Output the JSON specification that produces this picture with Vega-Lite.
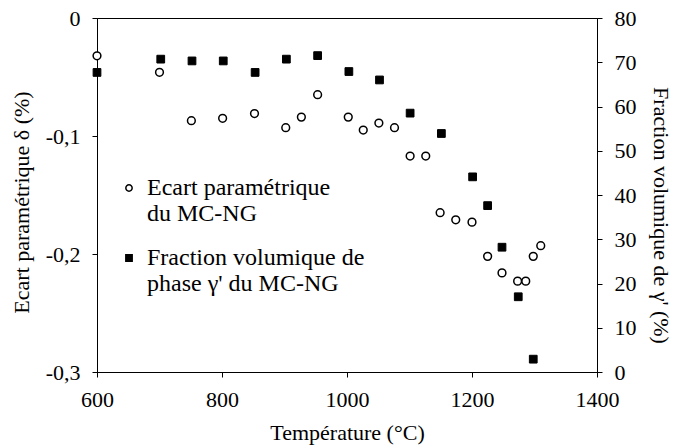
{
  "$schema": "https://vega.github.io/schema/vega-lite/v6.json",
  "width": 500,
  "height": 354,
  "autosize": {"type": "none"},
  "padding": {"left": 97, "top": 18, "right": 76, "bottom": 76},
  "background": "white",
  "config": {
    "view": {"stroke": "black", "strokeWidth": 1},
    "font": "Liberation Serif",
    "axis": {
      "labelFont": "Liberation Serif",
      "titleFont": "Liberation Serif",
      "labelFontSize": 22,
      "titleFontSize": 22,
      "titleFontWeight": "normal",
      "labelColor": "black",
      "titleColor": "black",
      "domainColor": "black",
      "tickColor": "black",
      "grid": false,
      "tickSize": 5,
      "labelFlush": false,
      "labelOverlap": false
    }
  },
  "datasets": {
    "ecart": [
      {"T": 600, "delta": -0.032, "series": "Ecart paramétrique|du MC-NG"},
      {"T": 700, "delta": -0.046, "series": "Ecart paramétrique|du MC-NG"},
      {"T": 751, "delta": -0.087, "series": "Ecart paramétrique|du MC-NG"},
      {"T": 801, "delta": -0.085, "series": "Ecart paramétrique|du MC-NG"},
      {"T": 852, "delta": -0.081, "series": "Ecart paramétrique|du MC-NG"},
      {"T": 902, "delta": -0.093, "series": "Ecart paramétrique|du MC-NG"},
      {"T": 927, "delta": -0.084, "series": "Ecart paramétrique|du MC-NG"},
      {"T": 953, "delta": -0.065, "series": "Ecart paramétrique|du MC-NG"},
      {"T": 1002, "delta": -0.084, "series": "Ecart paramétrique|du MC-NG"},
      {"T": 1026, "delta": -0.095, "series": "Ecart paramétrique|du MC-NG"},
      {"T": 1051, "delta": -0.089, "series": "Ecart paramétrique|du MC-NG"},
      {"T": 1076, "delta": -0.093, "series": "Ecart paramétrique|du MC-NG"},
      {"T": 1101, "delta": -0.117, "series": "Ecart paramétrique|du MC-NG"},
      {"T": 1126, "delta": -0.117, "series": "Ecart paramétrique|du MC-NG"},
      {"T": 1149, "delta": -0.165, "series": "Ecart paramétrique|du MC-NG"},
      {"T": 1174, "delta": -0.171, "series": "Ecart paramétrique|du MC-NG"},
      {"T": 1200, "delta": -0.173, "series": "Ecart paramétrique|du MC-NG"},
      {"T": 1225, "delta": -0.202, "series": "Ecart paramétrique|du MC-NG"},
      {"T": 1248, "delta": -0.216, "series": "Ecart paramétrique|du MC-NG"},
      {"T": 1273, "delta": -0.223, "series": "Ecart paramétrique|du MC-NG"},
      {"T": 1286, "delta": -0.223, "series": "Ecart paramétrique|du MC-NG"},
      {"T": 1298, "delta": -0.202, "series": "Ecart paramétrique|du MC-NG"},
      {"T": 1310, "delta": -0.193, "series": "Ecart paramétrique|du MC-NG"}
    ],
    "fraction": [
      {"T": 600, "frac": 67.7, "series": "Fraction volumique de|phase γ' du MC-NG"},
      {"T": 702, "frac": 70.7, "series": "Fraction volumique de|phase γ' du MC-NG"},
      {"T": 752, "frac": 70.3, "series": "Fraction volumique de|phase γ' du MC-NG"},
      {"T": 802, "frac": 70.3, "series": "Fraction volumique de|phase γ' du MC-NG"},
      {"T": 853, "frac": 67.7, "series": "Fraction volumique de|phase γ' du MC-NG"},
      {"T": 903, "frac": 70.7, "series": "Fraction volumique de|phase γ' du MC-NG"},
      {"T": 953, "frac": 71.5, "series": "Fraction volumique de|phase γ' du MC-NG"},
      {"T": 1003, "frac": 67.9, "series": "Fraction volumique de|phase γ' du MC-NG"},
      {"T": 1052, "frac": 66.0, "series": "Fraction volumique de|phase γ' du MC-NG"},
      {"T": 1101, "frac": 58.5, "series": "Fraction volumique de|phase γ' du MC-NG"},
      {"T": 1151, "frac": 53.9, "series": "Fraction volumique de|phase γ' du MC-NG"},
      {"T": 1201, "frac": 44.1, "series": "Fraction volumique de|phase γ' du MC-NG"},
      {"T": 1225, "frac": 37.6, "series": "Fraction volumique de|phase γ' du MC-NG"},
      {"T": 1248, "frac": 28.2, "series": "Fraction volumique de|phase γ' du MC-NG"},
      {"T": 1274, "frac": 17.0, "series": "Fraction volumique de|phase γ' du MC-NG"},
      {"T": 1298, "frac": 2.9, "series": "Fraction volumique de|phase γ' du MC-NG"}
    ]
  },
  "encoding": {
    "x": {
      "field": "T",
      "type": "quantitative",
      "scale": {"domain": [600, 1400], "nice": false, "zero": false},
      "axis": {"values": [600, 800, 1000, 1200, 1400], "title": "Température (°C)", "labelPadding": 12, "titlePadding": 12, "format": "d"}
    }
  },
  "layer": [
    {
      "data": {"name": "ecart"},
      "mark": {"type": "point", "filled": true, "strokeWidth": 1.5, "size": 60, "opacity": 1},
      "encoding": {
        "y": {
          "field": "delta",
          "type": "quantitative",
          "scale": {"domain": [-0.3, 0], "nice": false, "zero": false},
          "axis": {
            "orient": "left",
            "values": [0, -0.1, -0.2, -0.3],
            "labelExpr": "datum.value == 0 ? '0' : '-0,' + format(abs(datum.value) * 10, '.0f')",
            "title": "Ecart paramétrique δ (%)",
            "labelPadding": 12,
            "titlePadding": 12,
            "titleY": 184
          }
        },
        "shape": {
          "field": "series",
          "type": "nominal",
          "scale": {"domain": ["Ecart paramétrique|du MC-NG", "Fraction volumique de|phase γ' du MC-NG"], "range": ["circle", "square"]},
          "legend": {
            "title": null,
            "orient": "none",
            "legendX": 20,
            "legendY": 158,
            "labelExpr": "split(datum.label, '|')",
            "labelFont": "Liberation Serif",
            "labelFontSize": 24,
            "labelColor": "black",
            "labelLimit": 0,
            "labelOffset": 6,
            "symbolSize": 40,
            "symbolStrokeWidth": 1.5,
            "rowPadding": 20
          }
        },
        "fill": {
          "field": "series",
          "type": "nominal",
          "scale": {"domain": ["Ecart paramétrique|du MC-NG", "Fraction volumique de|phase γ' du MC-NG"], "range": ["white", "black"]},
          "legend": {
            "title": null,
            "orient": "none",
            "legendX": 20,
            "legendY": 158,
            "labelExpr": "split(datum.label, '|')",
            "labelFont": "Liberation Serif",
            "labelFontSize": 24,
            "labelColor": "black",
            "labelLimit": 0,
            "labelOffset": 6,
            "symbolSize": 40,
            "symbolStrokeWidth": 1.5,
            "rowPadding": 20
          }
        },
        "stroke": {
          "field": "series",
          "type": "nominal",
          "scale": {"domain": ["Ecart paramétrique|du MC-NG", "Fraction volumique de|phase γ' du MC-NG"], "range": ["black", "black"]},
          "legend": {
            "title": null,
            "orient": "none",
            "legendX": 20,
            "legendY": 158,
            "labelExpr": "split(datum.label, '|')",
            "labelFont": "Liberation Serif",
            "labelFontSize": 24,
            "labelColor": "black",
            "labelLimit": 0,
            "labelOffset": 6,
            "symbolSize": 40,
            "symbolStrokeWidth": 1.5,
            "rowPadding": 20
          }
        }
      }
    },
    {
      "data": {"name": "fraction"},
      "mark": {"type": "point", "filled": true, "strokeWidth": 1, "size": 60, "opacity": 1},
      "encoding": {
        "y": {
          "field": "frac",
          "type": "quantitative",
          "scale": {"domain": [0, 80], "nice": false},
          "axis": {
            "orient": "right",
            "values": [0, 10, 20, 30, 40, 50, 60, 70, 80],
            "title": "Fraction volumique de γ' (%)",
            "labelPadding": 12,
            "titlePadding": 12,
            "titleY": 197
          }
        },
        "shape": {"field": "series", "type": "nominal"},
        "fill": {"field": "series", "type": "nominal"},
        "stroke": {"field": "series", "type": "nominal"}
      }
    }
  ],
  "resolve": {"scale": {"y": "independent"}}
}
